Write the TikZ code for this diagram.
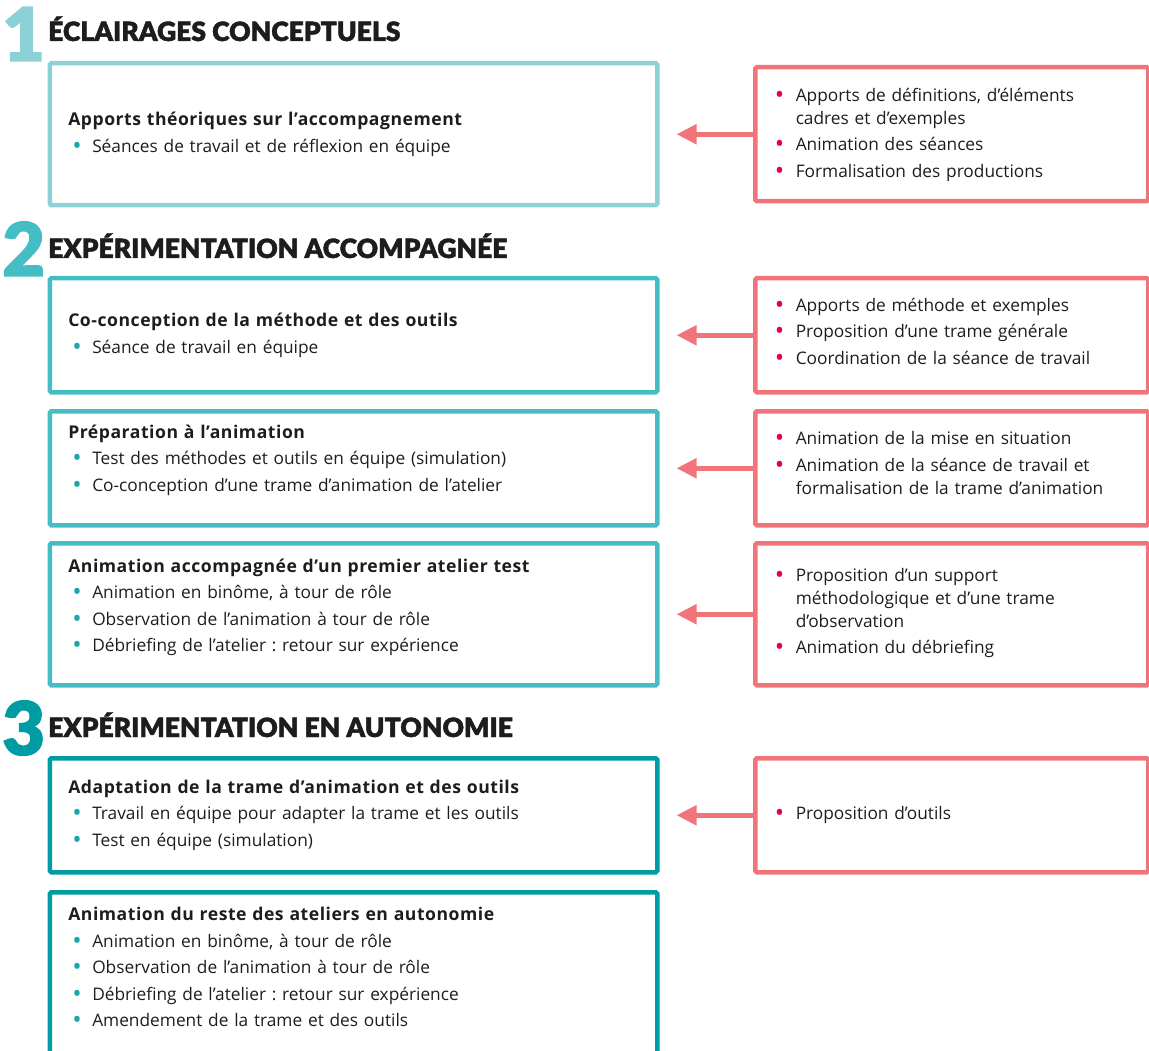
\documentclass[tikz,border=0pt]{standalone}
\usepackage{graphicx}
\usepackage{fontspec}
\setmainfont{Open Sans}[BoldFeatures={LetterSpace=3}]
\newfontfamily\headfont{Lato Black}[FakeBold=1.6]
\usetikzlibrary{arrows.meta, positioning}

\definecolor{stepone}{HTML}{8CD1D6}
\definecolor{steptwo}{HTML}{45BDC5}
\definecolor{stepthree}{HTML}{009CA3}
\definecolor{pinkline}{HTML}{F07479}
\definecolor{pinkdot}{HTML}{E4004B}
\definecolor{tealdot}{HTML}{1BA6AE}
\definecolor{inktext}{HTML}{1D1D1B}

% box title and bullet items, left (teal) and right (pink)
\newcommand{\btitle}[1]{{\fontsize{17.6}{23}\selectfont\bfseries #1}\par}
\newcommand{\bdot}[1]{\raisebox{-2pt}{\scalebox{1.45}{\textcolor{#1}{\textbullet}}}}
\newcommand{\lit}[1]{\par\hangindent=24pt\hangafter=1\noindent\makebox[24pt][l]{\hspace{4pt}\bdot{tealdot}}#1\par}
\newcommand{\rit}[1]{\par\hangindent=22pt\hangafter=1\noindent\makebox[22pt][l]{\hspace{1pt}\bdot{pinkdot}}#1\par}
% extra room under the text
\newcommand{\lift}[1]{\par\nointerlineskip\vspace*{#1}\null}

\begin{document}
\begin{tikzpicture}[
x=1pt, y=-1pt,
every node/.style={text=inktext},
heading/.style={anchor=base west, inner sep=0pt, font=\headfont\fontsize{26.5}{30}\selectfont},
digit/.style={anchor=base west, inner sep=0pt, font=\headfont\fontsize{74}{74}\selectfont},
lbox/.style={draw, line width=4.5pt, rounded corners=1.5pt, anchor=north west,
  minimum width=607.5pt, text width=570.5pt, inner xsep=18.5pt, align=left,
  font=\fontsize{17.3}{23}\selectfont,
  execute at begin node={\frenchspacing\setlength{\parskip}{3.5pt}\setlength{\parindent}{0pt}}},
rbox/.style={lbox, draw=pinkline, minimum width=393pt, text width=356pt, inner xsep=18.5pt},
arrow/.style={-{Triangle[length=20pt, width=19pt]}, line width=5pt, draw=pinkline, shorten >=17pt}
]
\useasboundingbox (0,0) rectangle (1149,1051);
\clip (0,0) rectangle (1149,1051);

% step 1
\node[digit, text=stepone] (n1) at (2,61) {1};
\node[heading] (h1) at (48,41) {ÉCLAIRAGES CONCEPTUELS};
\node[lbox, draw=stepone, minimum height=142pt] (L1) at (47.5,61)
  {\btitle{Apports théoriques sur l’accompagnement}\lit{Séances de travail et de réflexion en équipe}};
\node[rbox, minimum height=134pt] (R1) at (753,65)
  {\rit{Apports de définitions, d’éléments\newline cadres et d’exemples}\rit{Animation des séances}\rit{Formalisation des productions}\lift{12pt}};

% step 2
\node[digit, text=steptwo] (n2) at (2,276) {2};
\node[heading] (h2) at (48,258) {EXPÉRIMENTATION ACCOMPAGNÉE};
\node[lbox, draw=steptwo, minimum height=114pt] (L2a) at (47.5,276)
  {\btitle{Co-conception de la méthode et des outils}\lit{Séance de travail en équipe}};
\node[rbox, minimum height=114pt] (R2a) at (753,276)
  {\rit{Apports de méthode et exemples}\rit{Proposition d’une trame générale}\rit{Coordination de la séance de travail}\lift{20pt}};

\node[lbox, draw=steptwo, minimum height=114pt] (L2b) at (47.5,409)
  {\btitle{Préparation à l’animation}\lit{Test des méthodes et outils en équipe (simulation)}\lit{Co-conception d’une trame d’animation de l’atelier}\lift{16pt}};
\node[rbox, minimum height=114pt] (R2b) at (753,409)
  {\rit{Animation de la mise en situation}\rit{Animation de la séance de travail et\newline formalisation de la trame d’animation}\lift{24pt}};

\node[lbox, draw=steptwo, minimum height=142pt] (L2c) at (47.5,541)
  {\btitle{Animation accompagnée d’un premier atelier test}\lit{Animation en binôme, à tour de rôle}\lit{Observation de l’animation à tour de rôle}\lit{Débriefing de l’atelier~: retour sur expérience}\lift{14pt}};
\node[rbox, minimum height=142pt] (R2c) at (753,541)
  {\rit{Proposition d’un support\newline méthodologique et d’une trame\newline d’observation}\rit{Animation du débriefing}\lift{16pt}};

% step 3
\node[digit, text=stepthree] (n3) at (2,755) {3};
\node[heading] (h3) at (48,737) {EXPÉRIMENTATION EN AUTONOMIE};
\node[lbox, draw=stepthree, minimum height=114pt] (L3a) at (47.5,756)
  {\btitle{Adaptation de la trame d’animation et des outils}\lit{Travail en équipe pour adapter la trame et les outils}\lit{Test en équipe (simulation)}};
\node[rbox, minimum height=114pt] (R3a) at (753,756)
  {\rit{Proposition d’outils}\lift{14pt}};

\node[lbox, draw=stepthree, inner ysep=15pt] (L3b) at (47.5,890)
  {\btitle{Animation du reste des ateliers en autonomie}\lit{Animation en binôme, à tour de rôle}\lit{Observation de l’animation à tour de rôle}\lit{Débriefing de l’atelier~: retour sur expérience}\lit{Amendement de la trame et des outils}\lift{70pt}};

% support arrows
\draw[arrow] (R1) -- (L1);
\draw[arrow] (R2a) -- (L2a);
\draw[arrow] (R2b) -- (L2b);
\draw[arrow] (R2c) -- (L2c);
\draw[arrow] (R3a) -- (L3a);

\end{tikzpicture}
\end{document}
